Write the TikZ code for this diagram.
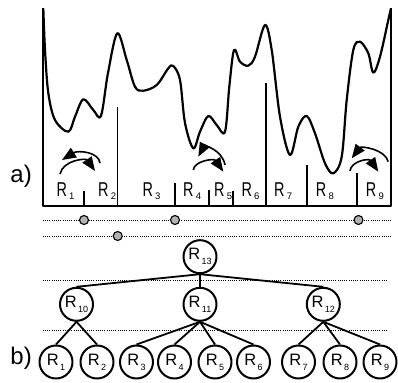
\documentclass[tikz,border=0pt]{standalone}
\usepackage{graphicx}
\usepackage{fontspec}
\setmainfont{Liberation Sans}
\usetikzlibrary{arrows.meta}
\newcommand\tlab[1]{R\kern1.3pt\raisebox{-5pt}{\fontsize{9}{10}\selectfont #1}}
\newcommand\rlab[1]{\scalebox{0.72}[1]{\fontsize{20}{21}\selectfont R}\kern2.2pt\raisebox{-2.5pt}{\fontsize{9.5}{10}\selectfont #1}}
\begin{document}
\begin{tikzpicture}[x=1pt,y=-1pt,line join=round,
  tnode/.style={circle,draw,line width=2pt,minimum size=33pt,inner sep=0pt,font=\fontsize{16.5}{17}\selectfont},
  tedge/.style={line width=1.8pt},
  dotline/.style={line width=1pt,dash pattern=on 1pt off 1.2pt},
  gdot/.style={circle,draw,fill=gray!60,line width=1.1pt,minimum size=9pt,inner sep=0pt},
  axisline/.style={line width=2pt},
  divider/.style={line width=1.8pt},
  swaparrow/.style={line width=1.6pt,-{Triangle[length=14pt,width=11pt]}},
  rl/.style={anchor=base west,inner sep=0pt},
  biglab/.style={anchor=base east,inner sep=0pt,font=\fontsize{24}{26}\selectfont}]
\useasboundingbox (0,0) rectangle (398,382);

% axes and baseline
\draw[axisline] (43,8) -- (43,206) -- (391,206) -- (391,8);
% dividers
\foreach \x/\t in {84/190.7,117.5/107.3,175/183,208.7/190,233/190.7,266.2/83,307.3/165,357.3/173}
  \draw[divider] (\x,206) -- (\x,\t);

% curve
\draw[line width=2.2pt] plot[smooth,tension=0.55] coordinates {
 (43.3,8.3) (45,50) (48.3,93) (55,120) (68.3,131.7) (75,116.7) (83.3,99.3)
 (93.3,110) (101,115.7) (108,73) (117.3,33.3) (126.7,60) (135,86.7) (143.3,90.7)
 (156.7,85) (168.3,68.3) (173.3,66) (180,80) (185,123) (193.3,148.3) (200,131.7)
 (208.3,116) (216.7,125) (225,131.7) (229.3,86.7) (234,50) (240,61.7) (248.3,65.7)
 (255,56.7) (265,25) (271.7,50) (280,116.7) (290,155) (298.3,126.7) (306.7,116)
 (315,133.3) (325,163.3) (333.3,173.3) (341.7,156.7) (346.7,100) (353.3,50)
 (360,41.7) (368.3,53.3) (373.3,72.7) (380,56.7) (388.3,20) (391,8.3)};

% swap arrows
\draw[swaparrow] (60,174) .. controls (63,160) and (86,158) .. (95,171);
\draw[swaparrow] (100,163) .. controls (99,152) and (78,150) .. (62,160);
\draw[swaparrow] (193.3,170) .. controls (194,161) and (214,158) .. (223.3,171.7);
\draw[swaparrow] (225,165) .. controls (222,149) and (204,146) .. (198.3,156.7);
\draw[swaparrow] (350,171) .. controls (351,161) and (369,158) .. (378.3,171.7);
\draw[swaparrow] (388.3,161.7) .. controls (385,149) and (361,146) .. (351.7,158.3);

% region labels
\node[rl] (l1) at (56.3,196.7) {\rlab{1}};
\node[rl] (l2) at (98,196.7) {\rlab{2}};
\node[rl] (l3) at (142.3,196.7) {\rlab{3}};
\node[rl] (l4) at (183,196.7) {\rlab{4}};
\node[rl] (l5) at (214,196.7) {\rlab{5}};
\node[rl] (l6) at (241.3,196.7) {\rlab{6}};
\node[rl] (l7) at (274,196.7) {\rlab{7}};
\node[rl] (l8) at (315.7,196.7) {\rlab{8}};
\node[rl] (l9) at (365.7,196.7) {\rlab{9}};

\node[biglab] (la) at (32,182.7) {a)};
\node[biglab] (lb) at (32,364) {b)};

% dotted levels
\draw[dotline] (42.7,220) -- (391,220);
\draw[dotline] (42.7,236) -- (391,236);
\draw[dotline] (42.7,280.7) -- (388,280.7);
\draw[dotline] (42.7,330.5) -- (388,330.5);
\node[gdot] (d1) at (84,220) {};
\node[gdot] (d2) at (175,220) {};
\node[gdot] (d3) at (358.5,220) {};
\node[gdot] (d4) at (117.7,236) {};

% tree
\node[tnode] (r13) at (200,256.7) {\tlab{13}};
\node[tnode] (r10) at (76.5,304.3) {\tlab{10}};
\node[tnode] (r11) at (200,304.3) {\tlab{11}};
\node[tnode] (r12) at (323.3,304.3) {\tlab{12}};
\node[tnode] (r1) at (56,362) {\tlab{1}};
\node[tnode] (r2) at (97,362) {\tlab{2}};
\node[tnode] (r3) at (136.5,362) {\tlab{3}};
\node[tnode] (r4) at (174.5,362) {\tlab{4}};
\node[tnode] (r5) at (215,362) {\tlab{5}};
\node[tnode] (r6) at (253.5,362) {\tlab{6}};
\node[tnode] (r7) at (298.5,362) {\tlab{7}};
\node[tnode] (r8) at (340,362) {\tlab{8}};
\node[tnode] (r9) at (380,362) {\tlab{9}};

\foreach \c in {r10,r11,r12} \draw[tedge] (r13.south) -- (\c.north);
\foreach \c in {r1,r2} \draw[tedge] (r10.south) -- (\c.north);
\foreach \c in {r3,r4,r5,r6} \draw[tedge] (r11.south) -- (\c.north);
\foreach \c in {r7,r8,r9} \draw[tedge] (r12.south) -- (\c.north);
\end{tikzpicture}
\end{document}
